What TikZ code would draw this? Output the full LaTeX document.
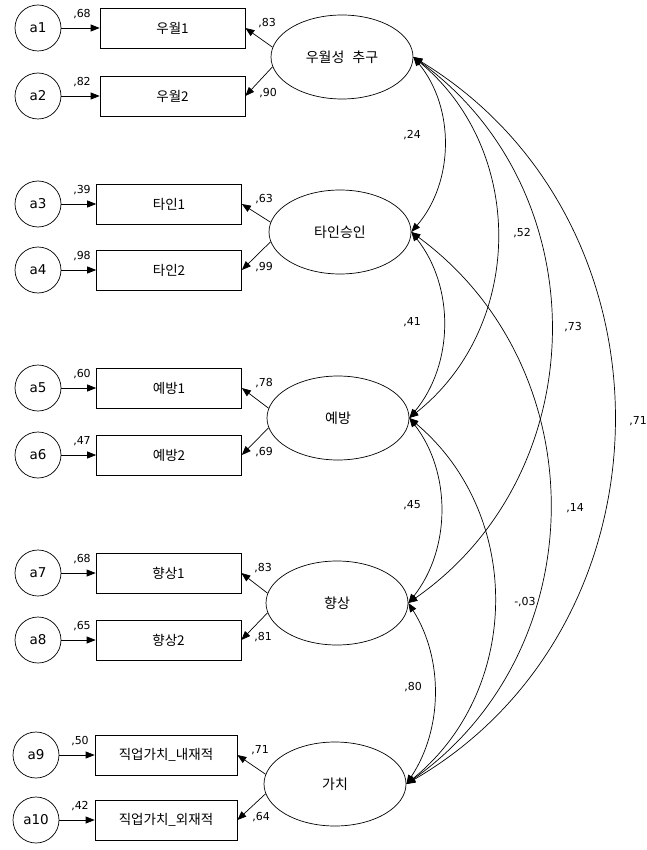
\documentclass[tikz,border=0pt]{standalone}
\usepackage{fontspec}
\setmainfont{DejaVu Sans}
\newfontfamily\kr{Noto Sans CJK KR}
\usetikzlibrary{arrows.meta,shapes.geometric}
\begin{document}
\begin{tikzpicture}[x=1pt,y=-1pt,
  err/.style={circle,draw,line width=0.7pt,minimum size=46pt,inner sep=0pt,font=\fontsize{13.5}{13.5}\selectfont},
  obs/.style={rectangle,draw,line width=0.7pt,minimum width=145pt,minimum height=40pt,inner sep=0pt,font=\kr\fontsize{13.5}{13.5}\selectfont},
  lat/.style={ellipse,draw,line width=0.7pt,minimum width=142pt,minimum height=84pt,inner sep=0pt,font=\kr\fontsize{14}{14}\selectfont},
  arr/.style={line width=0.7pt,-{Triangle[length=9pt,width=7pt]}},
  corr/.style={line width=0.7pt,{Triangle[length=9pt,width=7pt]}-{Triangle[length=9pt,width=7pt]}},
  num/.style={font=\fontsize{11}{11}\selectfont,inner sep=0pt}
]
\useasboundingbox[fill=white] (0,0) rectangle (646,850);

% latent factors
\node[lat] (L1) at (342,57)  {우월성\hspace{0.35em} 추구};
\node[lat] (L2) at (340,232) {타인승인};
\node[lat] (L3) at (338,418) {예방};
\node[lat] (L4) at (337,603) {향상};
\node[lat] (L5) at (335,784) {가치};

% observed
\node[obs] (o1)  at (172.5,28)  {우월1};
\node[obs] (o2)  at (172.5,96)  {우월2};
\node[obs] (o3)  at (169,204)   {타인1};
\node[obs] (o4)  at (169,270)   {타인2};
\node[obs] (o5)  at (169,388)   {예방1};
\node[obs] (o6)  at (169,455)   {예방2};
\node[obs] (o7)  at (168.5,573) {향상1};
\node[obs] (o8)  at (168.5,640) {향상2};
\node[obs,minimum width=142pt] (o9)  at (166,755) {직업가치\_내재적};
\node[obs,minimum width=142pt] (o10) at (166,820) {직업가치\_외재적};

% errors
\node[err] (a1)  at (38,28)  {a1};
\node[err] (a2)  at (38,96)  {a2};
\node[err] (a3)  at (38,204) {a3};
\node[err] (a4)  at (38,270) {a4};
\node[err] (a5)  at (38,388) {a5};
\node[err] (a6)  at (38,455) {a6};
\node[err] (a7)  at (38,573) {a7};
\node[err] (a8)  at (38,640) {a8};
\node[err] (a9)  at (36,755) {a9};
\node[err] (a10) at (36,820) {a10};

% error arrows
\foreach \i in {1,...,10} { \draw[arr] (a\i) -- (o\i); }
\node[num] at (82,14)  {,68};
\node[num] at (82,82)  {,82};
\node[num] at (82,190) {,39};
\node[num] at (82,256) {,98};
\node[num] at (82,374) {,60};
\node[num] at (82,441) {,47};
\node[num] at (82,559) {,68};
\node[num] at (82,626) {,65};
\node[num] at (80,741) {,50};
\node[num] at (80,806) {,42};

% loadings
\draw[arr] (L1.172) -- (o1.east);  \draw[arr] (L1.188) -- (o2.east);
\draw[arr] (L2.172) -- (o3.east);  \draw[arr] (L2.188) -- (o4.east);
\draw[arr] (L3.172) -- (o5.east);  \draw[arr] (L3.188) -- (o6.east);
\draw[arr] (L4.172) -- (o7.east);  \draw[arr] (L4.188) -- (o8.east);
\draw[arr] (L5.172) -- (o9.east);  \draw[arr] (L5.188) -- (o10.east);
\node[num] at (267,23)  {,83};  \node[num] at (268,93)  {,90};
\node[num] at (264,199) {,63};  \node[num] at (264,267) {,99};
\node[num] at (264,383) {,78};  \node[num] at (264,452) {,69};
\node[num] at (263,568) {,83};  \node[num] at (263,637) {,81};
\node[num] at (260,750) {,71};  \node[num] at (261,817) {,64};

% correlations
\draw[corr] (L1.east) to[bend left=40, looseness=0.96] (L2.east);
\draw[corr] (L2.east) to[bend left=39, looseness=0.96] (L3.east);
\draw[corr] (L3.east) to[bend left=38, looseness=0.95] (L4.east);
\draw[corr] (L4.east) to[bend left=33, looseness=0.93] (L5.east);
\draw[corr] (L1.east) to[bend left=51, looseness=1.04] (L3.east);
\draw[corr] (L1.east) to[bend left=54.6, looseness=1.07] (L4.east);
\draw[corr] (L1.east) to[bend left=59.3, looseness=1.11] (L5.east);
\draw[corr] (L2.east) to[bend left=54.2, looseness=1.07] (L5.east);
\draw[corr] (L3.east) to[bend left=50.4, looseness=1.04] (L5.east);

\node[num] at (412,135) {,24};
\node[num] at (412,322) {,41};
\node[num] at (412,505) {,45};
\node[num] at (413,687) {,80};
\node[num] at (522,233) {,52};
\node[num] at (573,327) {,73};
\node[num] at (638,421) {,71};
\node[num] at (575,508) {,14};
\node[num] at (525,602) {-,03};
\end{tikzpicture}
\end{document}
